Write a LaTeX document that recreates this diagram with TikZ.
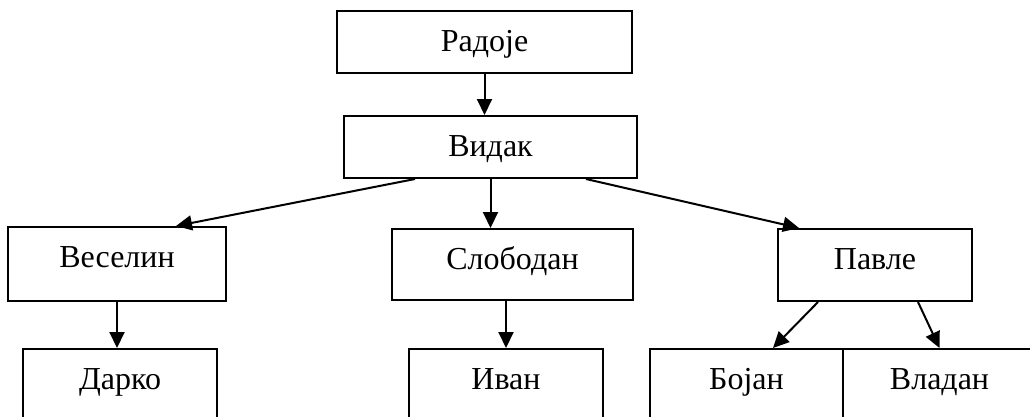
\documentclass[tikz,border=0pt]{standalone}
\usepackage{fontspec}
\setmainfont{Liberation Serif}
\usetikzlibrary{arrows.meta,calc}
\tikzset{
  pers/.style={draw,line width=2pt,inner sep=0pt,anchor=north,text height=40pt,
    font=\fontsize{32}{38}\selectfont},
  arr/.style={-{Triangle[length=16pt,width=15pt]},line width=2pt},
}

\begin{document}
\begin{tikzpicture}[x=1pt,y=-1pt]
  \clip (0,0) rectangle (1030,416);
  % top of the tree
  \node[pers,minimum width=295pt,text depth=22pt] (radoje) at (484.5,10) {Радоје};
  \node[pers,minimum width=293pt,text depth=22pt] (vidak) at (490.5,115) {Видак};
  % second row
  \node[pers,minimum width=218pt,text depth=34pt] (veselin) at (117,226) {Веселин};
  \node[pers,minimum width=241pt,text depth=31pt] (slobodan) at (512.5,228) {Слободан};
  \node[pers,minimum width=194pt,text depth=32pt] (pavle) at (875,228) {Павле};
  % bottom row (cut off below)
  \node[pers,minimum width=194pt,text depth=40pt] (darko) at (120,348) {Дарко};
  \node[pers,minimum width=194pt,text depth=40pt] (ivan) at (506,348) {Иван};
  \node[pers,minimum width=193pt,text depth=40pt] (bojan) at (746.5,348) {Бојан};
  \node[pers,minimum width=193pt,text depth=40pt] (vladan) at (939.5,348) {Владан};
  % arrows
  \draw[arr] (radoje.south) -- (radoje.south |- vidak.north);
  \draw[arr] (vidak.south) -- (vidak.south |- slobodan.north);
  \draw[arr] ([xshift=72pt]vidak.south west) -- ([xshift=-51pt]veselin.north east);
  \draw[arr] ([xshift=-52pt]vidak.south east) -- ([xshift=22pt]pavle.north west);
  \draw[arr] (veselin.south) -- (veselin.south |- darko.north);
  \draw[arr] (ivan.north |- slobodan.south) -- (ivan.north);
  \draw[arr] ([xshift=41pt]pavle.south west) -- ([xshift=26.5pt]bojan.north);
  \draw[arr] ([xshift=-55pt]pavle.south east) -- (vladan.north);
\end{tikzpicture}
\end{document}
